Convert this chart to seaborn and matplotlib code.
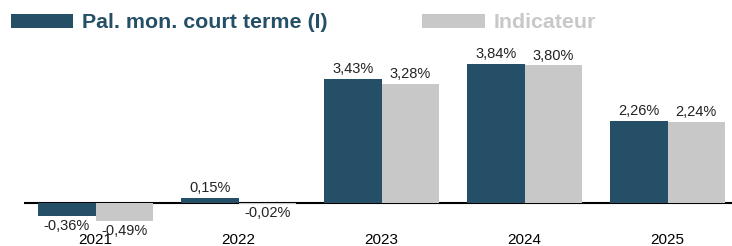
import pandas as pd
import matplotlib.pyplot as plt
import seaborn as sns

# Data (%)
years = ["2021", "2022", "2023", "2024", "2025"]
pal_values = [-0.36, 0.15, 3.43, 3.84, 2.26]
ind_values = [-0.49, -0.02, 3.28, 3.80, 2.24]
series_names = ["Pal. mon. court terme (I)", "Indicateur"]

dark = "#254f66"
grey = "#c8c8c8"

df = pd.DataFrame({
    "year": years * 2,
    "value": pal_values + ind_values,
    "series": [series_names[0]] * len(years) + [series_names[1]] * len(years),
})

sns.set_style("white")
plt.rcParams["font.family"] = ["Liberation Sans", "DejaVu Sans"]

fig = plt.figure(figsize=(7.32, 2.46), dpi=100)
ax = fig.add_axes([24 / 732, 21 / 246, 1 - 24 / 732, 185 / 246])

sns.barplot(data=df, x="year", y="value", hue="series", order=years,
            hue_order=series_names, palette=[dark, grey], width=0.8,
            saturation=1, linewidth=0, ax=ax)

# value labels in French format
for cont, vals in zip(ax.containers, [pal_values, ind_values]):
    labels = [f"{v:.2f}%".replace(".", ",") for v in vals]
    ax.bar_label(cont, labels=labels, padding=2, fontsize=10.5, color="#222222")

ax.axhline(0, color="black", linewidth=1.5, zorder=0)
ax.set_ylim(-0.608, 4.503)
ax.set_xlim(-0.5, 4.45)
ax.set_xlabel("")
ax.set_ylabel("")
ax.set_yticks([])
ax.tick_params(axis="x", length=0, pad=6, labelsize=11, labelcolor="black")
for s in ax.spines.values():
    s.set_visible(False)

# legend on top
ax.get_legend().remove()
handles, _ = ax.get_legend_handles_labels()
leg = fig.legend(handles[:2], series_names, loc="center left",
                 bbox_to_anchor=(11 / 732, 1 - 23 / 246), ncol=2,
                 frameon=False, borderaxespad=0, borderpad=0,
                 handlelength=2.92, handleheight=0.62, handletextpad=0.42,
                 columnspacing=4.4, prop={"size": 15.4, "weight": "bold"})
for t, c in zip(leg.get_texts(), [dark, grey]):
    t.set_color(c)

fig.savefig("out.png", dpi=100)
